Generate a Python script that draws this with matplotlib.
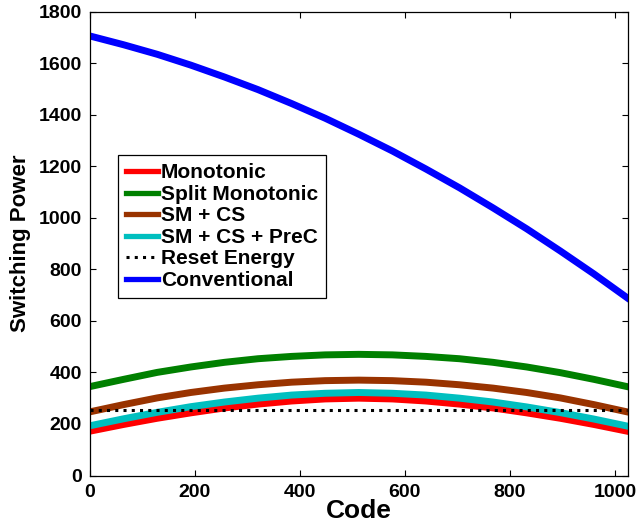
import matplotlib
matplotlib.use("Agg")
import matplotlib.pyplot as plt

codes = [0, 64, 128, 192, 256, 320, 384, 448, 512, 576, 640, 704, 768, 832, 896, 960, 1023]
monotonic = [172, 198, 222, 243, 262, 277, 289, 297, 300, 297, 289, 277, 262, 243, 222, 198, 172]
split_monotonic = [345, 373, 400, 421, 439, 453, 462, 468, 470, 468, 462, 453, 439, 421, 399, 373, 345]
sm_cs = [247, 275, 301, 322, 339, 352, 362, 368, 370, 368, 362, 352, 339, 322, 301, 275, 247]
sm_cs_prec = [193, 220, 245, 267, 285, 300, 312, 319, 322, 319, 312, 300, 285, 266, 244, 219, 192]
reset_codes = [0, 1023]
reset_energy = [256, 256]
conventional = [1705, 1671, 1634, 1592, 1546, 1497, 1443, 1386, 1324, 1259, 1189, 1116, 1038, 957, 871, 782, 690]

labels = ["Monotonic", "Split Monotonic", "SM + CS", "SM + CS + PreC",
          "Reset Energy", "Conventional"]
xticks = [0, 200, 400, 600, 800, 1000]
yticks = [0, 200, 400, 600, 800, 1000, 1200, 1400, 1600, 1800]

plt.rcParams['font.family'] = ['Liberation Sans', 'DejaVu Sans']
plt.rcParams['font.weight'] = 'bold'

fig = plt.figure(figsize=(6.38, 5.28), dpi=100)
ax = fig.add_axes([90/638, 52.5/528, 538/638, 464/528])

lw = 5
ax.plot(codes, monotonic, color='#ff0000', lw=lw, label=labels[0])
ax.plot(codes, split_monotonic, color='#008000', lw=lw, label=labels[1])
ax.plot(codes, sm_cs, color='#993300', lw=lw, label=labels[2])
ax.plot(codes, sm_cs_prec, color='#00bfbf', lw=lw, label=labels[3])
ax.plot(reset_codes, reset_energy, color='black', lw=2.2, dashes=(1.0, 1.7),
        dash_capstyle='butt', label=labels[4])
ax.plot(codes, conventional, color='#0000ff', lw=lw, label=labels[5])

ax.set_xlim(0, 1025)
ax.set_ylim(0, 1800)
ax.set_xticks(xticks)
ax.set_yticks(yticks)
ax.tick_params(direction='in', length=4, width=0.8, top=True, right=True,
               labelsize=14, pad=6)
for lab in ax.get_xticklabels() + ax.get_yticklabels():
    lab.set_fontweight('bold')
for s in ax.spines.values():
    s.set_linewidth(0.9)

ax.set_xlabel("Code", fontsize=19, fontweight='bold', labelpad=-1)
ax.set_ylabel("Switching Power", fontsize=16, fontweight='bold', labelpad=5)

leg = ax.legend(loc='upper left', bbox_to_anchor=((118-90)/538, (475.5-155)/464),
                borderaxespad=0, frameon=True, fancybox=False, framealpha=1,
                edgecolor='black', prop={'weight': 'bold', 'size': 15},
                handlelength=1.5, handletextpad=0.15, labelspacing=0.12,
                borderpad=0.4)
leg.get_frame().set_linewidth(0.9)
for h in leg.get_lines():
    if h.get_linestyle() == '-':
        h.set_linewidth(3.8)

fig.savefig("out.png", dpi=100)
